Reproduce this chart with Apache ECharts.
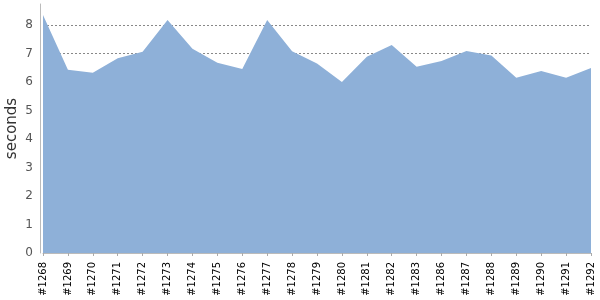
<!DOCTYPE html>
<html><head><meta charset="utf-8">
<script src="https://cdn.jsdelivr.net/npm/echarts@6/dist/echarts.min.js"></script>
<style>html,body{margin:0;padding:0;background:#fff}#c{width:600px;height:300px}</style>
</head><body><div id="c"></div>
<script>
var categories = ['#1268','#1269','#1270','#1271','#1272','#1273','#1274','#1275','#1276','#1277','#1278','#1279','#1280','#1281','#1282','#1283','#1286','#1287','#1288','#1289','#1290','#1291','#1292'];
var seconds = [8.35,6.43,6.33,6.84,7.06,8.18,7.17,6.68,6.46,8.18,7.08,6.65,6.0,6.89,7.3,6.54,6.74,7.09,6.93,6.15,6.39,6.15,6.49];
var yTicks = [0,1,2,3,4,5,6,7,8];

var chart = echarts.init(document.getElementById('c'), null, {renderer:'canvas'});
chart.setOption({
  animation: false,
  grid: {left: 43, right: 9, top: 4, bottom: 47, containLabel: false, outerBoundsMode: 'none'},
  xAxis: {
    type: 'category', data: categories, boundaryGap: false, offset: 4,
    axisLine: {lineStyle: {color: '#bbb'}},
    axisTick: {show: true, length: 3, alignWithLabel: true, lineStyle: {color: '#aaa'}},
    axisLabel: {rotate: 90, interval: 0, color: '#000', fontSize: 10, fontFamily: 'DejaVu Sans', margin: 5}
  },
  yAxis: {
    type: 'value', min: 0, max: 8.74, interval: 1, offset: 3,
    name: 'seconds', nameLocation: 'middle', nameGap: 20, nameMoveOverlap: false,
    nameTextStyle: {color: '#333', fontSize: 15, fontFamily: 'DejaVu Sans'},
    axisLine: {show: true, lineStyle: {color: '#bbb'}},
    axisTick: {show: false},
    axisLabel: {color: '#555', fontSize: 12, fontFamily: 'DejaVu Sans', margin: 7, showMaxLabel: false,
      formatter: function(v){ return yTicks.indexOf(v) >= 0 ? String(v) : ''; }},
    splitLine: {show: true, showMaxLine: false, lineStyle: {color: '#888', type: [2,2], width: 1}}
  },
  series: [{
    type: 'line', data: seconds, symbol: 'none',
    lineStyle: {width: 0},
    areaStyle: {color: '#8eb0d8', opacity: 1}
  }]
});
</script></body></html>
